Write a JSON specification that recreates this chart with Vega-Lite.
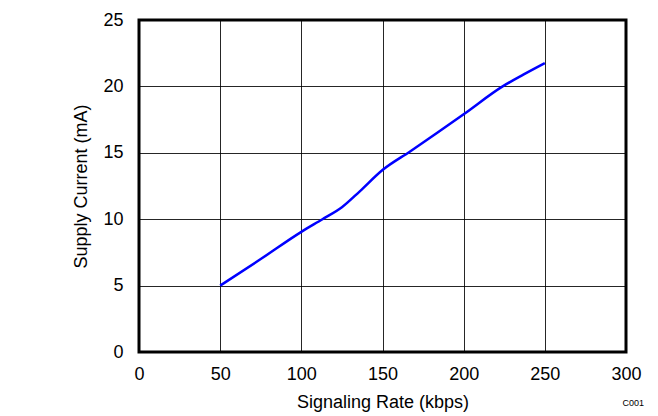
{
  "$schema": "https://vega.github.io/schema/vega-lite/v6.json",
  "width": 487,
  "height": 332,
  "autosize": {"type": "none"},
  "padding": {"left": 139, "top": 20, "right": 32, "bottom": 64},
  "background": "white",
  "title": {"text": "C001", "orient": "bottom", "anchor": "end", "frame": "group", "fontSize": 9, "font": "Liberation Sans", "fontWeight": "normal", "color": "#000000", "offset": -12, "dx": 18, "baseline": "top"},
  "data": {"values": [
    {"rate": 50, "current": 5.0},
    {"rate": 75, "current": 7.0},
    {"rate": 100, "current": 9.05},
    {"rate": 113, "current": 10.0},
    {"rate": 125, "current": 10.9},
    {"rate": 136, "current": 12.1},
    {"rate": 150, "current": 13.7},
    {"rate": 167, "current": 15.1},
    {"rate": 200, "current": 17.9},
    {"rate": 224, "current": 20.0},
    {"rate": 237, "current": 20.9},
    {"rate": 250, "current": 21.75}
  ]},
  "mark": {"type": "line", "color": "#0000FF", "strokeWidth": 2.5, "interpolate": "monotone"},
  "encoding": {
    "x": {"field": "rate", "type": "quantitative", "title": "Signaling Rate (kbps)",
      "scale": {"domain": [0, 300], "nice": false},
      "axis": {"values": [0, 50, 100, 150, 200, 250, 300], "labelPadding": 13, "titlePadding": 10}},
    "y": {"field": "current", "type": "quantitative", "title": "Supply Current (mA)",
      "scale": {"domain": [0, 25], "nice": false},
      "axis": {"values": [0, 5, 10, 15, 20, 25], "labelPadding": 16, "titlePadding": 12}}
  },
  "config": {
    "font": "Liberation Sans",
    "view": {"stroke": "#000000", "strokeWidth": 3},
    "axis": {
      "domain": false,
      "ticks": false,
      "grid": true,
      "gridColor": "#000000",
      "gridOpacity": 0.85,
      "gridWidth": 1,
      "labelFont": "Liberation Sans",
      "labelFontSize": 18,
      "labelColor": "#000000",
      "titleFont": "Liberation Sans",
      "titleFontSize": 18,
      "titleFontWeight": "normal",
      "titleColor": "#000000",
      "labelFlush": false,
      "labelOverlap": false
    }
  }
}
